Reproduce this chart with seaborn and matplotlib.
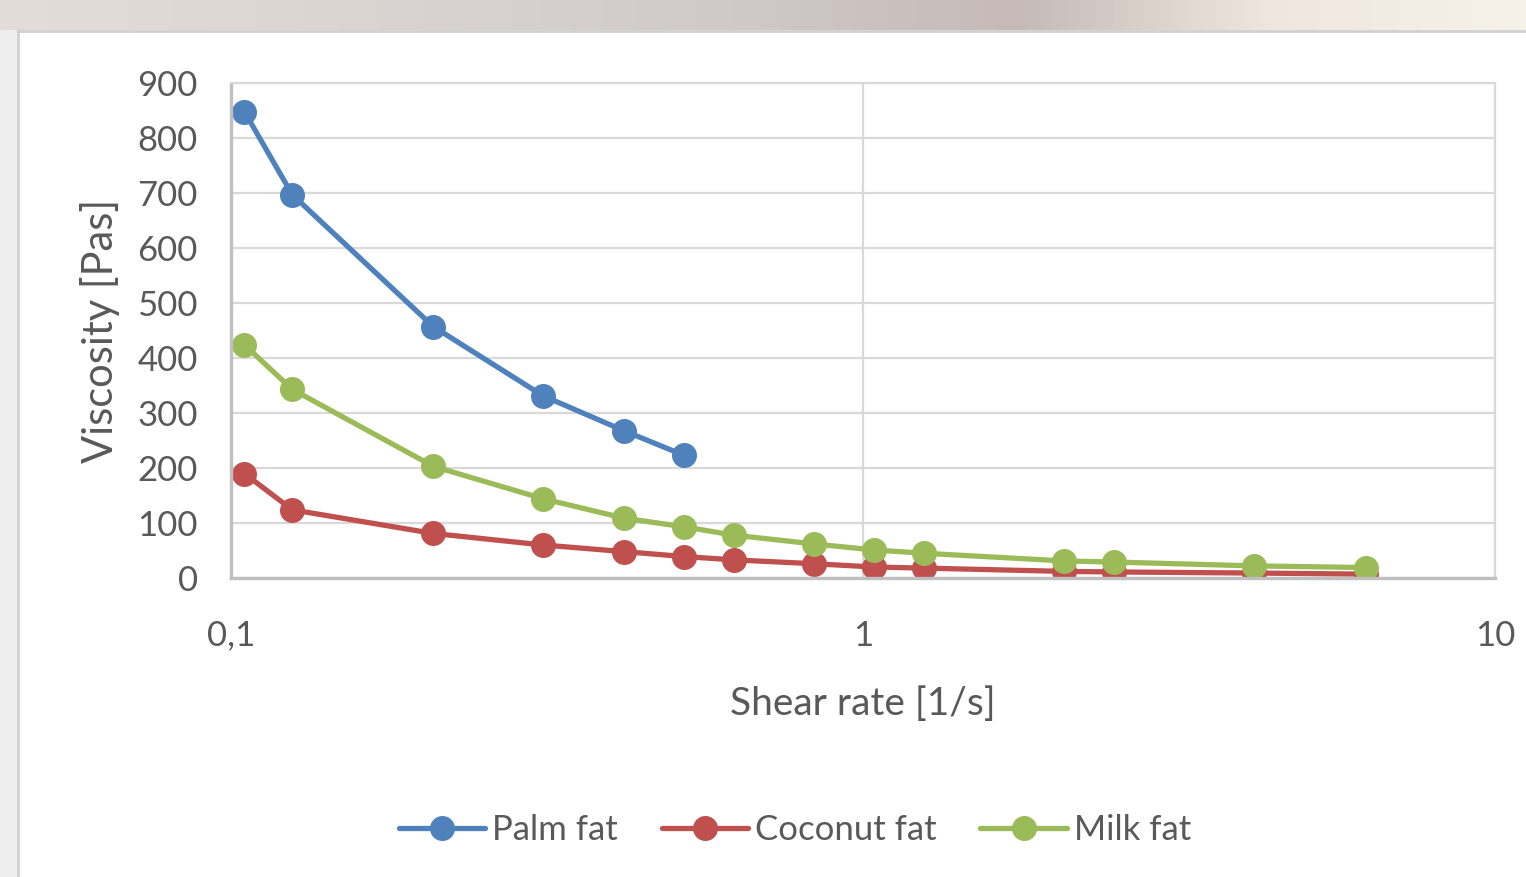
import numpy as np
import pandas as pd
import matplotlib
matplotlib.use("Agg")
import matplotlib.pyplot as plt
import seaborn as sns
from matplotlib.ticker import FixedLocator, FixedFormatter, NullLocator
from matplotlib.colors import LinearSegmentedColormap

# Shear rate values (1/s)
shear_rate = [0.105, 0.125, 0.209, 0.312, 0.418, 0.521, 0.624, 0.835,
              1.04, 1.25, 2.08, 2.5, 4.16, 6.25]

# Viscosity (Pas) per fat
palm_fat = [848, 697, 457, 331, 268, 223]
coconut_fat = [190, 124, 81, 60, 48, 39, 33, 26, 20, 18, 12, 11, 9, 7]
milk_fat = [424, 343, 203, 144, 109, 93, 78, 62, 51, 45, 31, 29, 22, 19]

series_names = ["Palm fat", "Coconut fat", "Milk fat"]
series_colors = ["#4F81BD", "#C0504D", "#9BBB59"]

x_ticks = [0.1, 1, 10]
x_tick_labels = ["0,1", "1", "10"]
y_ticks = [0, 100, 200, 300, 400, 500, 600, 700, 800, 900]

frames = []
for name, vals in zip(series_names, [palm_fat, coconut_fat, milk_fat]):
    frames.append(pd.DataFrame({
        "shear": shear_rate[:len(vals)],
        "viscosity": vals,
        "fat": name,
    }))
df = pd.concat(frames, ignore_index=True)

sns.set_theme(style="white")
plt.rcParams["font.family"] = ["Lato", "DejaVu Sans"]
text_color = "#595959"

fig = plt.figure(figsize=(15.26, 8.77), dpi=100)
fig.patch.set_facecolor("white")

# screenshot surround: blurred band on top, grey strip on the left
bg = fig.add_axes([0, 1 - 30 / 877, 1, 30 / 877], zorder=-5)
cmap = LinearSegmentedColormap.from_list(
    "band", ["#e4dcd8", "#ded6d2", "#d6d0cf", "#cfc8c6", "#c5bab6", "#efe7df", "#f6f1e9"])
bg.imshow(np.linspace(0, 1, 256)[None, :], aspect="auto", cmap=cmap,
          extent=[0, 1, 0, 1])
bg.set_axis_off()
side = fig.add_axes([0, 0, 18 / 1526, 1 - 30 / 877], zorder=-5)
side.set_facecolor("#eeeeee")
side.set_xticks([])
side.set_yticks([])
for s in side.spines.values():
    s.set_visible(False)
fig.add_artist(plt.Line2D([18 / 1526, 18 / 1526], [0, 1 - 30 / 877],
                          color="#d0d0d0", lw=2, transform=fig.transFigure))
fig.add_artist(plt.Line2D([18 / 1526, 1], [1 - 31 / 877, 1 - 31 / 877],
                          color="#d0d0d0", lw=2, transform=fig.transFigure))

ax = fig.add_axes([231 / 1526, 1 - 578 / 877, 1264 / 1526, 495 / 877])
sns.lineplot(
    data=df, x="shear", y="viscosity", hue="fat", hue_order=series_names,
    palette=series_colors, marker="o", ax=ax, sort=False,
)
# Excel-like heavy lines and big round markers
for line in ax.get_lines():
    line.set_linewidth(3.8)
    line.set_markersize(18)
    line.set_markeredgewidth(0)

ax.set_xscale("log")
ax.set_xlim(0.1, 10)
ax.set_ylim(0, 900)
ax.xaxis.set_major_locator(FixedLocator(x_ticks))
ax.xaxis.set_major_formatter(FixedFormatter(x_tick_labels))
ax.xaxis.set_minor_locator(NullLocator())
ax.set_yticks(y_ticks)

ax.grid(True, which="major", color="#d9d9d9", linewidth=1.6)
ax.set_axisbelow(True)
for side_name in ["top", "right"]:
    ax.spines[side_name].set_color("#d9d9d9")
    ax.spines[side_name].set_linewidth(1.6)
for side_name in ["left", "bottom"]:
    ax.spines[side_name].set_color("#bfbfbf")
    ax.spines[side_name].set_linewidth(2.4)

ax.tick_params(axis="x", length=0, pad=30, labelsize=25, labelcolor=text_color)
ax.tick_params(axis="y", length=0, pad=24, labelsize=25, labelcolor=text_color)

ax.set_xlabel("Shear rate [1/s]", fontsize=28, color=text_color)
ax.set_ylabel("Viscosity [Pas]", fontsize=30, color=text_color)
ax.xaxis.set_label_coords(0.5, -0.218)
ax.yaxis.set_label_coords(-0.088, 0.5)

handles, labels = ax.get_legend_handles_labels()
for h in handles:
    h.set_linewidth(3.8)
    h.set_markersize(18)
    h.set_markeredgewidth(0)
ax.legend_.remove()
leg = fig.legend(
    handles, labels, loc="center", bbox_to_anchor=(795 / 1526, 1 - 830 / 877),
    ncol=3, frameon=False, fontsize=25, handlelength=2.5, handletextpad=0.2,
    columnspacing=1.25, labelcolor=text_color,
)

fig.savefig("out.png", dpi=100, facecolor=fig.get_facecolor())
